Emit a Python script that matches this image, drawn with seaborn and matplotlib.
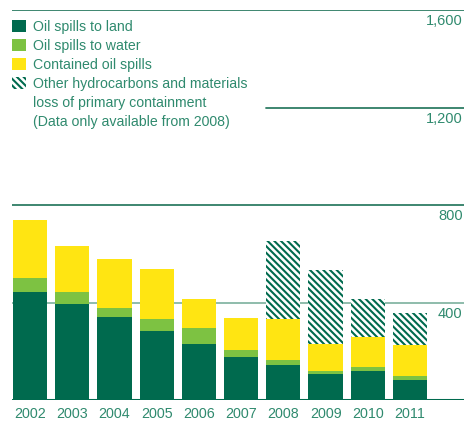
#!/usr/bin/env python
"""Stacked bars of oil spill volumes by year, 2002-2011."""

import matplotlib.pyplot as plt
import numpy as np
import pandas as pd
import seaborn as sns
from matplotlib.patches import Patch

YEARS = ["2002", "2003", "2004", "2005", "2006", "2007", "2008", "2009", "2010", "2011"]
LAND = [443, 394, 340, 283, 230, 176, 144, 107, 119, 82]
WATER = [57, 49, 37, 49, 65, 29, 20, 12, 16, 16]
CONTAINED = [238, 189, 201, 205, 119, 131, 168, 111, 123, 128]
OTHER = [np.nan, np.nan, np.nan, np.nan, np.nan, np.nan, 320, 303, 156, 131]

Y_TICKS = [400, 800, 1200, 1600]
Y_TICK_LABELS = ["400", "800", "1,200", "1,600"]

LEGEND_LABELS = [
    "Oil spills to land",
    "Oil spills to water",
    "Contained oil spills",
    "Other hydrocarbons and materials",
    "loss of primary containment",
    "(Data only available from 2008)",
]

DARK = "#006a4e"
LIGHT = "#7dc242"
YELLOW = "#ffe512"
TEXT = "#2f8a6e"
GRID_DARK = "#2e7d64"
GRID_LIGHT = "#86b6a5"
HATCH = "\\" * 5


def main():
    sns.set_theme(style="white")
    plt.rcParams["font.family"] = ["Liberation Sans", "DejaVu Sans"]
    plt.rcParams["hatch.linewidth"] = 1.5

    df = pd.DataFrame(
        {"year": YEARS, "land": LAND, "water": WATER, "contained": CONTAINED, "other": OTHER}
    )
    df["c_land"] = df["land"]
    df["c_water"] = df["c_land"] + df["water"]
    df["c_contained"] = df["c_water"] + df["contained"]
    df["c_other"] = df["c_contained"] + df["other"].fillna(0)

    fig = plt.figure(figsize=(4.66, 4.22), dpi=100)
    ax = fig.add_axes([12 / 466, 22 / 422, 452 / 466, 390 / 422])

    # gridlines behind the bars
    for val in Y_TICKS:
        color = GRID_LIGHT if val == 400 else GRID_DARK
        xmin = 0.562 if val == 1200 else 0
        ax.axhline(val, xmin=xmin, color=color, linewidth=1.3, zorder=0)

    # stacked bars drawn tallest first
    sns.barplot(data=df, x="year", y="c_other", color="white", edgecolor=DARK,
                linewidth=0, hatch=HATCH, width=0.81, saturation=1, ax=ax, zorder=1)
    for col, color in [("c_contained", YELLOW), ("c_water", LIGHT), ("c_land", DARK)]:
        sns.barplot(data=df, x="year", y=col, color=color, linewidth=0,
                    width=0.81, saturation=1, ax=ax, zorder=2)

    ax.axhline(0, color=DARK, linewidth=2.2, zorder=5)

    ax.set_ylim(0, 1600)
    ax.set_xlim(-0.43, 10.28)
    for spine in ax.spines.values():
        spine.set_visible(False)
    ax.set_xlabel("")
    ax.set_ylabel("")
    ax.set_yticks([])
    ax.tick_params(axis="x", length=0, pad=5, labelsize=10.3, labelcolor=TEXT)

    for val, lab in zip(Y_TICKS, Y_TICK_LABELS):
        ax.annotate(lab, xy=(1.0, val), xycoords=("axes fraction", "data"),
                    xytext=(-1, -3), textcoords="offset points",
                    ha="right", va="top", fontsize=10.5, color=TEXT)

    handles = [
        Patch(facecolor=DARK, linewidth=0),
        Patch(facecolor=LIGHT, linewidth=0),
        Patch(facecolor=YELLOW, linewidth=0),
        Patch(facecolor="white", edgecolor=DARK, linewidth=0, hatch=HATCH),
        Patch(facecolor="none", edgecolor="none", linewidth=0),
        Patch(facecolor="none", edgecolor="none", linewidth=0),
    ]
    leg = ax.legend(handles, LEGEND_LABELS, loc="upper left",
                    bbox_to_anchor=(-0.009, 0.9846), borderaxespad=0, borderpad=0.3,
                    frameon=True, facecolor="white", edgecolor="none", framealpha=1,
                    fontsize=10.2, handlelength=0.95, handleheight=0.95,
                    handletextpad=0.55, labelspacing=0.35)
    leg.set_zorder(6)
    for txt in leg.get_texts():
        txt.set_color(TEXT)

    fig.savefig("out.png", dpi=100)


if __name__ == "__main__":
    main()
